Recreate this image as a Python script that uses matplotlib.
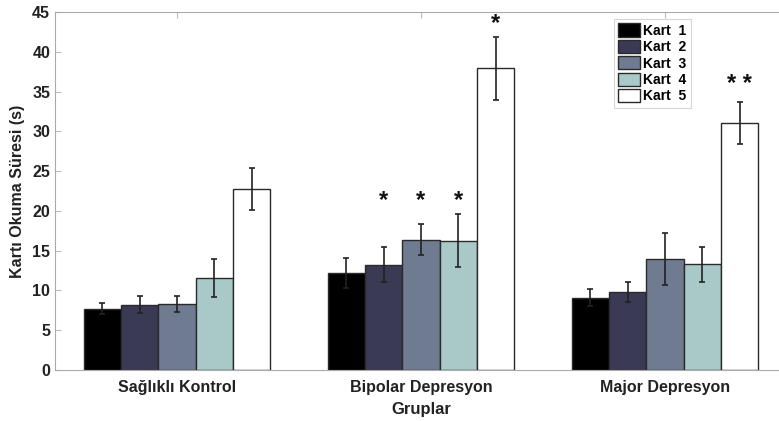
import matplotlib
matplotlib.use("Agg")
import matplotlib.pyplot as plt
import numpy as np

plt.rcParams['font.family'] = ['Liberation Sans', 'DejaVu Sans']

groups = ["Sağlıklı Kontrol", "Bipolar Depresyon", "Major Depresyon"]
series = ["Kart  1", "Kart  2", "Kart  3", "Kart  4", "Kart  5"]
means = {
    "Kart  1": [7.7, 12.2, 9.1],
    "Kart  2": [8.2, 13.2, 9.8],
    "Kart  3": [8.3, 16.4, 13.95],
    "Kart  4": [11.6, 16.25, 13.3],
    "Kart  5": [22.7, 37.9, 31.1],
}
errs = {
    "Kart  1": [0.7, 1.9, 1.1],
    "Kart  2": [1.05, 2.2, 1.3],
    "Kart  3": [1.05, 1.9, 3.3],
    "Kart  4": [2.4, 3.3, 2.2],
    "Kart  5": [2.65, 3.95, 2.65],
}
colors = ["#000000", "#3b3a55", "#6f7b91", "#a9c9c9", "#ffffff"]
# significance marks: (group index, series index, label, y)
stars = [(1, 1, "*", 21.3), (1, 2, "*", 21.3), (1, 3, "*", 21.3),
         (1, 4, "*", 43.6), (2, 4, "* *", 35.9)]

fig = plt.figure(figsize=(7.79, 4.21), dpi=100)
ax = fig.add_axes([55/779, 51/421, (787-55)/779, (370-12)/421])

x = np.arange(1, len(groups) + 1)
w = 0.153
for i, s in enumerate(series):
    pos = x + (i - 2) * w
    ax.bar(pos, means[s], width=w, color=colors[i], edgecolor="#2a2a2a",
           linewidth=1.0, label=s, zorder=2)
    ax.errorbar(pos, means[s], yerr=errs[s], fmt="none", ecolor="#222222",
                elinewidth=1.2, capsize=2, capthick=1.2, zorder=3)

for g, si, lab, yv in stars:
    ax.text(x[g] + (si - 2) * w, yv, lab, ha="center", va="center",
            fontsize=17, fontweight="bold", color="#111111")

ax.set_xlim(0.5, 3.5)
ax.set_ylim(0, 45)
ax.set_yticks(np.arange(0, 46, 5))
ax.set_xticks(x)
ax.set_xticklabels(groups)
ax.tick_params(direction="in", length=4, color="#bbbbbb", labelsize=11.5,
               top=True, right=True, labelcolor="#222222")
ax.tick_params(axis="x", pad=7)
for lbl in ax.get_xticklabels() + ax.get_yticklabels():
    lbl.set_fontweight("bold")
for sp in ax.spines.values():
    sp.set_color("#aaaaaa")
    sp.set_linewidth(0.8)

ax.set_ylabel("Kartı Okuma Süresi (s)", fontsize=11.5, fontweight="bold",
              color="#222222", labelpad=5)
ax.set_xlabel("Gruplar", fontsize=12, fontweight="bold", color="#222222",
              labelpad=5)

leg = ax.legend(loc="upper left", bbox_to_anchor=(614/779, 1 - 19/421),
                bbox_transform=fig.transFigure, frameon=True, fancybox=False,
                fontsize=10, handlelength=1.6, handleheight=1.1,
                handletextpad=0.2, labelspacing=0.15, borderpad=0.3,
                borderaxespad=0)
leg.get_frame().set_edgecolor("#cccccc")
leg.get_frame().set_linewidth(0.8)
for t in leg.get_texts():
    t.set_fontweight("bold")

fig.savefig("out.png", dpi=100)
